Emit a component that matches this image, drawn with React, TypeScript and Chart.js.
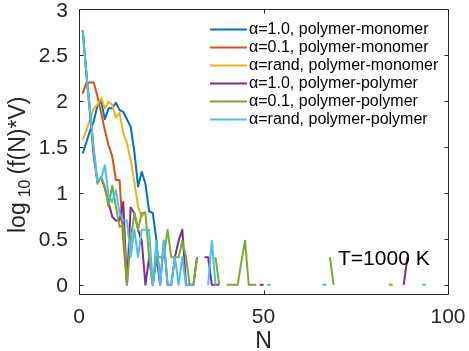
import React, { useEffect, useRef } from "react";
import { Chart, registerables } from "chart.js";

Chart.register(...registerables);

// ---- axes ----
const X_TICKS = [0, 50, 100];
const Y_TICKS = [0, 0.5, 1, 1.5, 2, 2.5, 3];
const X_MIN = 0;
const X_MAX = 100;
const Y_MIN = -0.1;
const Y_MAX = 3;
const X_TITLE = "N";
const ANNOTATION = "T=1000 K";

// ---- series ----
const SERIES_LABELS = [
  "α=1.0, polymer-monomer",
  "α=0.1, polymer-monomer",
  "α=rand, polymer-monomer",
  "α=1.0, polymer-polymer",
  "α=0.1, polymer-polymer",
  "α=rand, polymer-polymer",
];
const SERIES_COLORS = ["#0072BD", "#D95319", "#EDB120", "#7E2F8E", "#77AC30", "#4DBEEE"];

// log10(f(N)*V) for N = 1, 2, 3, ... (null = no value)
const A10_PM = [1.43, 1.55, 1.68, 1.78, 1.95, 2.0, 1.8, 1.92, 1.92, 1.98, 1.9, 1.88, 1.8, 1.72, 1.45, 1.07, 1.23, 1.1, 0.8, 0.78, 0.48, 0];
const A01_PM = [2.08, 2.2, 2.2, 2.2, 2.05, 1.87, 1.68, 1.52, 1.4, 1.14, 1.14, 0.48, 0];
const RAND_PM = [1.58, 1.68, 1.8, 1.92, 1.96, 2.03, 1.92, 1.99, 1.96, 1.82, 1.87, 1.65, 1.54, 1.36, 1.12, 0.85, 0.74, 0.8];
const A10_PP = [2.77, 2.3, 1.85, 1.4, 1.12, 1.17, 1.05, 0.9, 0.74, 0.7, 0.7, 0.9, 0, 0.84, 0.78, 0.6, 0.48, 0, 0.3, 0, 0.3, 0, 0.48, 0, 0, 0.3, 0.48, 0.6, 0, 0, 0, 0.3, null, 0.3, 0.3, 0, 0, 0];
const A01_PP = [2.77, 2.3, 1.9, 1.47, 1.1, 1.17, 1.07, 0.85, 1.08, 0.85, 0.63, 0.65, 0, 0.48, 0.78, 0.6, 0.78, 0.78, 0.3, 0, 0.3, 0.3, 0.3, 0.6, 0.3, 0.3, 0.3, 0.48, 0.3, 0, 0, 0.3, null, null, null, null, 0.3, 0, null, 0, 0, 0, 0, 0.25, 0.48, 0, 0, 0];
const RAND_PP = [2.77, 2.3, 1.88, 1.47, 1.13, 1.16, 1.3, 0.98, 0.9, 1.03, 0.78, 0.7, 0.7, 0.3, 0.6, 0.3, 0.6, 0.6, 0.6, 0, 0.48, 0, 0.48, 0, 0, 0.3, 0, 0.3, 0, 0, 0, null, null, null, 0, 0.48, 0];

// isolated points further out (N, value)
const A10_PP_TAIL_N = [49, 50, 88, 89];
const A10_PP_TAIL_V = [0, 0, 0, 0.3];
const A01_PP_TAIL_N = [68, 69, 84, 85];
const A01_PP_TAIL_V = [0.3, 0, 0, 0];
const RAND_PP_TAIL_N = [51, 52, 66, 67, 93, 94];
const RAND_PP_TAIL_V = [0, 0, 0, 0, 0, 0];

type Pt = { x: number; y: number | null };

function buildPoints(head: (number | null)[], tailN: number[] = [], tailV: number[] = []): Pt[] {
  const pts: Pt[] = head.map((v, i) => ({ x: i + 1, y: v }));
  let last = head.length;
  tailN.forEach((n, i) => {
    if (n !== last + 1) pts.push({ x: last + 1, y: null });
    pts.push({ x: n, y: tailV[i] });
    last = n;
  });
  return pts;
}

const SERIES_POINTS: Pt[][] = [
  buildPoints(A10_PM),
  buildPoints(A01_PM),
  buildPoints(RAND_PM),
  buildPoints(A10_PP, A10_PP_TAIL_N, A10_PP_TAIL_V),
  buildPoints(A01_PP, A01_PP_TAIL_N, A01_PP_TAIL_V),
  buildPoints(RAND_PP, RAND_PP_TAIL_N, RAND_PP_TAIL_V),
];

const FONT = '"Liberation Sans", Arial, Helvetica, sans-serif';
const AXIS_COLOR = "#262626";

const decorPlugin = {
  id: "decor",
  afterDatasetsDraw(chart: any) {
    const { ctx, chartArea: a, scales } = chart;
    const xs = scales.x;
    const ys = scales.y;
    const L = Math.round(a.left) + 0.5;
    const R = Math.round(a.right) + 0.5;
    const T = Math.round(a.top) + 0.5;
    const B = Math.round(a.bottom) + 0.5;
    ctx.save();

    // box
    ctx.strokeStyle = AXIS_COLOR;
    ctx.lineWidth = 1;
    ctx.beginPath();
    ctx.moveTo(L, T);
    ctx.lineTo(R, T);
    ctx.lineTo(R, B);
    ctx.lineTo(L, B);
    ctx.closePath();
    ctx.stroke();

    // inward ticks
    const tl = 4;
    ctx.beginPath();
    X_TICKS.forEach((v) => {
      const px = Math.round(xs.getPixelForValue(v)) + 0.5;
      ctx.moveTo(px, B);
      ctx.lineTo(px, B - tl);
      ctx.moveTo(px, T);
      ctx.lineTo(px, T + tl);
    });
    Y_TICKS.forEach((v) => {
      const py = Math.round(ys.getPixelForValue(v)) + 0.5;
      ctx.moveTo(L, py);
      ctx.lineTo(L + tl, py);
      ctx.moveTo(R, py);
      ctx.lineTo(R - tl, py);
    });
    ctx.stroke();

    // tick labels
    ctx.fillStyle = AXIS_COLOR;
    ctx.font = `21px ${FONT}`;
    ctx.textBaseline = "alphabetic";
    ctx.textAlign = "center";
    X_TICKS.forEach((v) => {
      ctx.fillText(String(v), xs.getPixelForValue(v), a.bottom + 29);
    });
    ctx.textAlign = "right";
    Y_TICKS.forEach((v) => {
      ctx.fillText(String(v), a.left - 11, ys.getPixelForValue(v) + 7.5);
    });

    // x title
    ctx.font = `23px ${FONT}`;
    ctx.textAlign = "center";
    ctx.fillText(X_TITLE, (a.left + a.right) / 2, a.bottom + 54);

    // y title: log_10(f(N)*V), rotated
    ctx.save();
    ctx.translate(25, 233);
    ctx.rotate(-Math.PI / 2);
    ctx.textAlign = "left";
    ctx.font = `23px ${FONT}`;
    ctx.fillText("log", 0, 0);
    let off = ctx.measureText("log").width + 5;
    ctx.font = `16px ${FONT}`;
    ctx.fillText("10", off, 5);
    off += ctx.measureText("10").width + 5;
    ctx.font = `23px ${FONT}`;
    ctx.fillText("(f(N)*V)", off, 0);
    ctx.restore();

    // legend
    ctx.font = `16px ${FONT}`;
    ctx.textAlign = "left";
    ctx.textBaseline = "middle";
    SERIES_LABELS.forEach((lab, i) => {
      const y = 29.5 + 18 * i;
      ctx.strokeStyle = SERIES_COLORS[i];
      ctx.lineWidth = 2;
      ctx.beginPath();
      ctx.moveTo(210, y);
      ctx.lineTo(247, y);
      ctx.stroke();
      ctx.fillStyle = "#000000";
      ctx.fillText(lab, 249, y + 0.5);
    });

    // annotation
    ctx.font = `21px ${FONT}`;
    ctx.textBaseline = "alphabetic";
    ctx.fillStyle = "#000000";
    ctx.fillText(ANNOTATION, 338, 265);

    ctx.restore();
  },
};

export default function App() {
  const ref = useRef<HTMLCanvasElement | null>(null);

  useEffect(() => {
    if (!ref.current) return;
    const datasets = SERIES_LABELS.map((label, i) => ({
      label,
      data: SERIES_POINTS[i],
      borderColor: SERIES_COLORS[i],
      backgroundColor: SERIES_COLORS[i],
      borderWidth: 2,
      pointRadius: 0,
      pointHoverRadius: 0,
      fill: false,
      tension: 0,
      spanGaps: false,
      borderJoinStyle: "round" as const,
      order: SERIES_LABELS.length - i,
    }));
    const chart = new Chart(ref.current, {
      type: "line",
      data: { datasets },
      options: {
        animation: false,
        responsive: false,
        devicePixelRatio: 1,
        events: [],
        layout: { padding: { left: 0, right: 21, top: 9, bottom: 0 } },
        plugins: { legend: { display: false }, tooltip: { enabled: false } },
        scales: {
          x: {
            type: "linear",
            min: X_MIN,
            max: X_MAX,
            grid: { display: false },
            border: { display: false },
            ticks: { display: false },
            afterFit: (s: any) => {
              s.height = 57;
            },
          },
          y: {
            type: "linear",
            min: Y_MIN,
            max: Y_MAX,
            grid: { display: false },
            border: { display: false },
            ticks: { display: false },
            afterFit: (s: any) => {
              s.width = 79;
            },
          },
        },
      },
      plugins: [decorPlugin],
    });
    return () => chart.destroy();
  }, []);

  return (
    <div style={{ position: "fixed", left: 0, top: 0, width: 469, height: 351, background: "#fff" }}>
      <canvas ref={ref} width={469} height={351} style={{ display: "block" }} />
    </div>
  );
}
